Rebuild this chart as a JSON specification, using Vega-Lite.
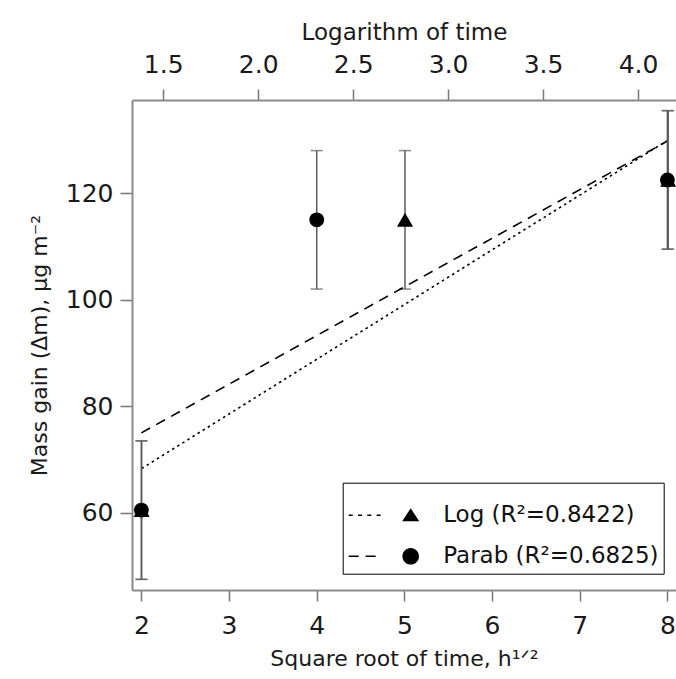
{
  "$schema": "https://vega.github.io/schema/vega-lite/v6.json",
  "width": 544,
  "height": 490,
  "autosize": "none",
  "padding": {"left": 132, "top": 100, "right": 0, "bottom": 89},
  "background": "white",
  "config": {
    "view": {"stroke": null},
    "font": "DejaVu Sans",
    "axis": {
      "grid": false,
      "domainColor": "#8a8a8a",
      "domainWidth": 2,
      "tickColor": "#777777",
      "tickWidth": 1.5,
      "tickSize": 11,
      "labelFontSize": 25,
      "labelColor": "#1a1a1a",
      "labelFont": "DejaVu Sans",
      "titleFont": "DejaVu Sans",
      "titleFontSize": 22,
      "titleFontWeight": "normal",
      "titleColor": "#1a1a1a"
    },
    "axisY": {
      "tickSize": 12,
      "labelPadding": 7,
      "titlePadding": 14
    }
  },
  "datasets": {
    "parab": [
      {"sqrt_t": 2, "mass": 60.5, "lo": 47.5, "hi": 73.5},
      {"sqrt_t": 4, "mass": 115, "lo": 102, "hi": 128},
      {"sqrt_t": 8, "mass": 122.5, "lo": 109.5, "hi": 135.5}
    ],
    "log": [
      {"ln_t": 1.386, "mass": 60.5, "lo": 47.5, "hi": 73.5},
      {"ln_t": 2.773, "mass": 115, "lo": 102, "hi": 128},
      {"ln_t": 4.159, "mass": 122.5, "lo": 109.5, "hi": 135.5}
    ],
    "parab_fit": [
      {"sqrt_t": 2, "fit": 75.0},
      {"sqrt_t": 8, "fit": 129.8}
    ],
    "log_fit": [
      {"ln_t": 1.386, "fit": 68.3},
      {"ln_t": 4.159, "fit": 130.0}
    ],
    "legend_rows": [
      {"ln_t": 2.773, "mass": 115, "series": "Log (R²=0.8422)"},
      {"ln_t": 2.773, "mass": 115, "series": "Parab (R²=0.6825)"}
    ]
  },
  "layer": [
    {
      "encoding": {
        "x": {
          "field": "ln_t",
          "type": "quantitative",
          "scale": {"domain": [1.3355, 4.2], "nice": false, "zero": false},
          "axis": {
            "orient": "top",
            "title": "Logarithm of time",
            "titleFontSize": 23,
            "values": [1.5, 2.0, 2.5, 3.0, 3.5, 4.0],
            "format": ".1f",
            "labelPadding": 12,
            "titlePadding": 8
          }
        }
      },
      "layer": [
        {
          "data": {"name": "log_fit"},
          "mark": {"type": "line", "color": "black", "strokeWidth": 1.6, "strokeDash": [2.5, 3.5]},
          "encoding": {
            "y": {"field": "fit", "type": "quantitative", "scale": {"domain": [45.5, 137.5], "nice": false, "zero": false}, "axis": {"title": "Mass gain (Δm), μg m⁻²", "values": [60, 80, 100, 120]}}
          }
        },
        {
          "data": {"name": "log"},
          "mark": {"type": "rule", "color": "#5a5a5a", "strokeWidth": 1.5},
          "encoding": {
            "y": {"field": "lo", "type": "quantitative", "scale": {"domain": [45.5, 137.5], "nice": false, "zero": false}, "axis": {"title": "Mass gain (Δm), μg m⁻²", "values": [60, 80, 100, 120]}},
            "y2": {"field": "hi"}
          }
        },
        {
          "data": {"name": "log"},
          "mark": {"type": "point", "shape": "stroke", "size": 144, "color": "#5a5a5a", "strokeWidth": 1.5},
          "encoding": {
            "y": {"field": "lo", "type": "quantitative", "scale": {"domain": [45.5, 137.5], "nice": false, "zero": false}, "axis": {"title": "Mass gain (Δm), μg m⁻²", "values": [60, 80, 100, 120]}}
          }
        },
        {
          "data": {"name": "log"},
          "mark": {"type": "point", "shape": "stroke", "size": 144, "color": "#5a5a5a", "strokeWidth": 1.5},
          "encoding": {
            "y": {"field": "hi", "type": "quantitative", "scale": {"domain": [45.5, 137.5], "nice": false, "zero": false}, "axis": {"title": "Mass gain (Δm), μg m⁻²", "values": [60, 80, 100, 120]}}
          }
        },
        {
          "data": {"name": "log"},
          "mark": {"type": "point", "shape": "triangle-up", "filled": true, "color": "black", "opacity": 1, "size": 260},
          "encoding": {
            "y": {"field": "mass", "type": "quantitative", "scale": {"domain": [45.5, 137.5], "nice": false, "zero": false}, "axis": {"title": "Mass gain (Δm), μg m⁻²", "values": [60, 80, 100, 120]}}
          }
        },
        {
          "data": {"name": "legend_rows"},
          "mark": {"type": "point", "filled": true, "color": "black", "opacity": 0, "size": 400},
          "encoding": {
            "y": {"field": "mass", "type": "quantitative", "scale": {"domain": [45.5, 137.5], "nice": false, "zero": false}, "axis": {"title": "Mass gain (Δm), μg m⁻²", "values": [60, 80, 100, 120]}},
            "shape": {
              "field": "series",
              "type": "nominal",
              "scale": {
                "domain": ["Log (R²=0.8422)", "Parab (R²=0.6825)"],
                "range": [
                  "M-1.05,-0.08H-0.65V0.08H-1.05ZM-0.12,-0.08H0.28V0.08H-0.12ZM0.81,-0.08H1.21V0.08H0.81ZM1.75,-0.08H2.15V0.08H1.75ZM5.15,-0.7L6,0.6L4.3,0.6Z",
                  "M-1.05,-0.08H-0.05V0.08H-1.05ZM0.65,-0.08H1.65V0.08H0.65ZM4.32,0A0.83,0.83 0 1,0 5.98,0A0.83,0.83 0 1,0 4.32,0Z"
                ]
              },
              "legend": {
                "orient": "none",
                "legendX": 210.7,
                "legendY": 382.7,
                "title": " ",
                "titleFontSize": 10,
                "titlePadding": 6,
                "strokeColor": "black",
                "fillColor": "white",
                "padding": 5,
                "labelFontSize": 23,
                "labelFont": "DejaVu Sans",
                "labelColor": "#111111",
                "labelLimit": 400,
                "labelOffset": 72.5,
                "rowPadding": 17,
                "symbolSize": 400,
                "symbolOpacity": 1,
                "symbolFillColor": "black"
              }
            }
          }
        }
      ]
    },
    {
      "encoding": {
        "x": {
          "field": "sqrt_t",
          "type": "quantitative",
          "scale": {"domain": [1.893, 8.098], "nice": false, "zero": false},
          "axis": {
            "orient": "bottom",
            "title": "Square root of time, h¹ᐟ²",
            "values": [2, 3, 4, 5, 6, 7, 8],
            "labelPadding": 12,
            "titlePadding": 10
          }
        }
      },
      "layer": [
        {
          "data": {"name": "parab_fit"},
          "mark": {"type": "line", "color": "black", "strokeWidth": 1.6, "strokeDash": [10, 7]},
          "encoding": {
            "y": {"field": "fit", "type": "quantitative", "scale": {"domain": [45.5, 137.5], "nice": false, "zero": false}, "axis": {"title": "Mass gain (Δm), μg m⁻²", "values": [60, 80, 100, 120]}}
          }
        },
        {
          "data": {"name": "parab"},
          "mark": {"type": "rule", "color": "#5a5a5a", "strokeWidth": 1.5},
          "encoding": {
            "y": {"field": "lo", "type": "quantitative", "scale": {"domain": [45.5, 137.5], "nice": false, "zero": false}, "axis": {"title": "Mass gain (Δm), μg m⁻²", "values": [60, 80, 100, 120]}},
            "y2": {"field": "hi"}
          }
        },
        {
          "data": {"name": "parab"},
          "mark": {"type": "point", "shape": "stroke", "size": 144, "color": "#5a5a5a", "strokeWidth": 1.5},
          "encoding": {
            "y": {"field": "lo", "type": "quantitative", "scale": {"domain": [45.5, 137.5], "nice": false, "zero": false}, "axis": {"title": "Mass gain (Δm), μg m⁻²", "values": [60, 80, 100, 120]}}
          }
        },
        {
          "data": {"name": "parab"},
          "mark": {"type": "point", "shape": "stroke", "size": 144, "color": "#5a5a5a", "strokeWidth": 1.5},
          "encoding": {
            "y": {"field": "hi", "type": "quantitative", "scale": {"domain": [45.5, 137.5], "nice": false, "zero": false}, "axis": {"title": "Mass gain (Δm), μg m⁻²", "values": [60, 80, 100, 120]}}
          }
        },
        {
          "data": {"name": "parab"},
          "mark": {"type": "point", "shape": "circle", "filled": true, "color": "black", "opacity": 1, "size": 220},
          "encoding": {
            "y": {"field": "mass", "type": "quantitative", "scale": {"domain": [45.5, 137.5], "nice": false, "zero": false}, "axis": {"title": "Mass gain (Δm), μg m⁻²", "values": [60, 80, 100, 120]}}
          }
        }
      ]
    }
  ],
  "resolve": {"scale": {"x": "independent"}, "axis": {"x": "independent"}}
}
